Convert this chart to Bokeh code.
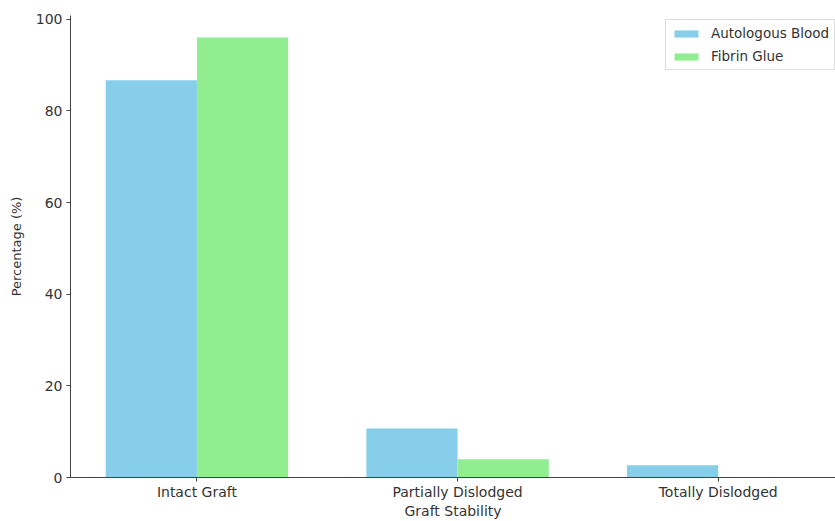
from bokeh.plotting import figure
from bokeh.models import ColumnDataSource, FixedTicker, Range1d, Legend, LegendItem
from bokeh.transform import dodge
from bokeh.embed import file_html
from bokeh.resources import INLINE

categories = ["Intact Graft", "Partially Dislodged", "Totally Dislodged"]
autologous_blood = [86.7, 10.7, 2.7]
fibrin_glue = [96.0, 4.0, 0.0]
y_ticks = [0, 20, 40, 60, 80, 100]

src = ColumnDataSource(dict(x=list(range(len(categories))),
                            ab=autologous_blood, fg=fibrin_glue))

p = figure(width=835, height=521, output_backend="svg", toolbar_location=None,
           x_range=Range1d(-0.485, 2.45), y_range=Range1d(0, 100.8),
           min_border_left=70, min_border_right=0, min_border_top=15, min_border_bottom=44)
p.outline_line_color = None
p.xgrid.visible = False
p.ygrid.visible = False
p.background_fill_color = "white"
p.border_fill_color = "white"

r1 = p.vbar(x=dodge("x", -0.175), top="ab", width=0.35, source=src,
            color="#87CEEB", line_color=None)
r2 = p.vbar(x=dodge("x", 0.175), top="fg", width=0.35, source=src,
            color="#90EE90", line_color=None)

for ax in (p.xaxis[0], p.yaxis[0]):
    ax.axis_line_color = "#444444"
    ax.major_tick_line_color = "#444444"
    ax.major_tick_out = 4
    ax.major_tick_in = 0
    ax.minor_tick_line_color = None
    ax.major_label_text_font = "DejaVu Sans"
    ax.major_label_text_color = "#333333"
    ax.axis_label_text_font = "DejaVu Sans"
    ax.axis_label_text_font_style = "normal"
    ax.axis_label_text_color = "#333333"

p.xaxis.major_label_text_font_size = "14px"
p.xaxis.axis_label_text_font_size = "14px"
p.yaxis.major_label_text_font_size = "14px"
p.yaxis.axis_label_text_font_size = "13px"

p.xaxis.ticker = FixedTicker(ticks=[0, 1, 2])
p.xaxis.major_label_overrides = {i: c for i, c in enumerate(categories)}
p.xaxis.axis_label = "Graft Stability"
p.xaxis.major_label_standoff = 2
p.xaxis.axis_label_standoff = 0
p.yaxis.ticker = FixedTicker(ticks=y_ticks)
p.yaxis.axis_label = "Percentage (%)"
p.yaxis.major_label_standoff = 4
p.yaxis.axis_label_standoff = 9

legend = Legend(items=[LegendItem(label="Autologous Blood", renderers=[r1]),
                       LegendItem(label="Fibrin Glue", renderers=[r2])],
                location=(595, 407))
legend.label_text_font = "DejaVu Sans"
legend.label_text_font_size = "13.5px"
legend.label_text_color = "#333333"
legend.glyph_width = 30
legend.glyph_height = 9
legend.label_height = 15
legend.label_standoff = 10
legend.spacing = 7
legend.padding = 5
legend.margin = 0
legend.border_line_color = "#dddddd"
legend.border_line_alpha = 1
legend.background_fill_alpha = 0.8
p.add_layout(legend)

open("out.html", "w").write(file_html(p, INLINE))
